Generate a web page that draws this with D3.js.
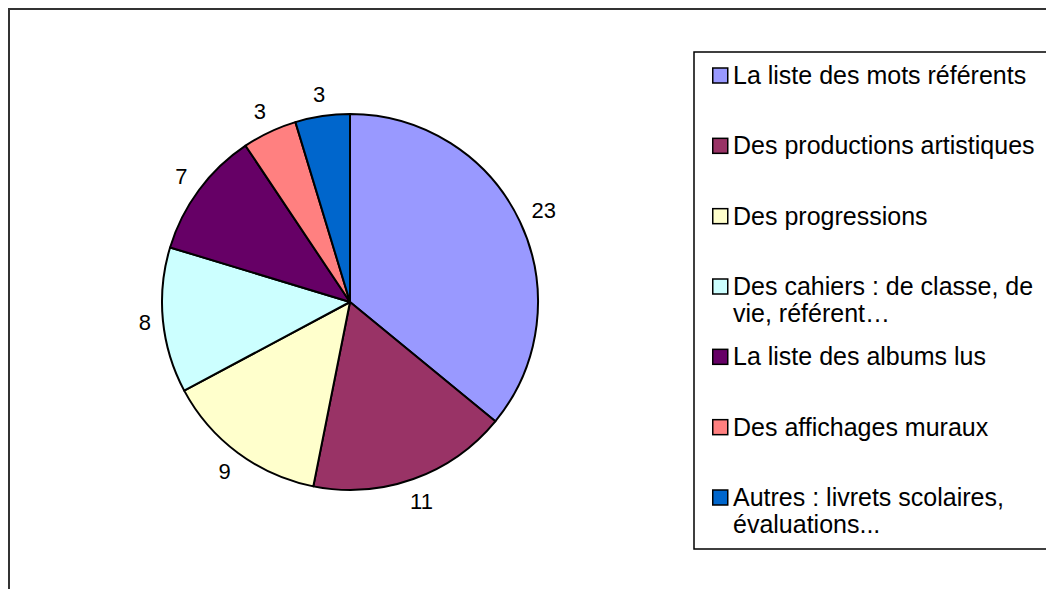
<!DOCTYPE html>
<html>
<head>
<meta charset="utf-8">
<script src="https://cdn.jsdelivr.net/npm/d3@7"></script>
<style>
  html, body { margin: 0; padding: 0; background: #fff; }
  svg { display: block; font-family: "Liberation Sans", Arial, sans-serif; }
</style>
</head>
<body>
<script>
const categories = [
  ['La liste des mots référents'],
  ['Des productions artistiques'],
  ['Des progressions'],
  ['Des cahiers : de classe, de', 'vie, référent…'],
  ['La liste des albums lus'],
  ['Des affichages muraux'],
  ['Autres : livrets scolaires,', 'évaluations...']
];
const values = [23, 11, 9, 8, 7, 3, 3];
const colors = ['#9999FF', '#993366', '#FFFFCC', '#CCFFFF', '#660066', '#FF8080', '#0066CC'];

const width = 1046;
const height = 589;

const svg = d3.select('body').append('svg')
    .attr('width', width)
    .attr('height', height);

// outer chart frame (runs off the right/bottom edge)
svg.append('path')
    .attr('d', `M9,${height + 5} V9 H${width + 5}`)
    .attr('fill', 'none')
    .attr('stroke', '#333')
    .attr('stroke-width', 2);

const cx = 350, cy = 302, radius = 188;

const pie = d3.pie().sort(null).value(d => d);
const arcs = pie(values);
const arc = d3.arc().innerRadius(0).outerRadius(radius);

const g = svg.append('g').attr('transform', `translate(${cx},${cy})`);

g.selectAll('path')
    .data(arcs)
    .enter()
    .append('path')
    .attr('d', arc)
    .attr('fill', (d, i) => colors[i])
    .attr('stroke', '#000')
    .attr('stroke-width', 2)
    .attr('stroke-linejoin', 'round');

// value labels: keep a constant gap between the pie edge and the label box
const gap = 11;
g.selectAll('text')
    .data(arcs)
    .enter()
    .append('text')
    .attr('text-anchor', 'middle')
    .attr('dominant-baseline', 'central')
    .attr('font-size', 22)
    .text(d => d.data)
    .each(function(d) {
        const a = (d.startAngle + d.endAngle) / 2;
        const ux = Math.sin(a), uy = -Math.cos(a);
        const w = this.getBBox().width;
        const r = radius + gap + Math.abs(ux) * w / 2 + Math.abs(uy) * 10;
        d3.select(this).attr('x', ux * r).attr('y', uy * r);
    });

// legend
const legX = 694, legY = 52, legBottom = 549;
svg.append('path')
    .attr('d', `M${width + 5},${legY} H${legX} V${legBottom} H${width + 5}`)
    .attr('fill', 'none')
    .attr('stroke', '#000')
    .attr('stroke-width', 1.5);

const legendY = d3.scaleLinear().domain([0, categories.length - 1]).range([75, 497]);

const item = svg.selectAll('g.legend-item')
    .data(categories)
    .enter()
    .append('g')
    .attr('class', 'legend-item')
    .attr('transform', (d, i) => `translate(712,${legendY(i)})`);

item.append('rect')
    .attr('x', 0.75)
    .attr('y', -7)
    .attr('width', 15)
    .attr('height', 15)
    .attr('fill', (d, i) => colors[i])
    .attr('stroke', '#000')
    .attr('stroke-width', 1.5);

item.append('text')
    .attr('font-size', 25)
    .selectAll('tspan')
    .data(d => d)
    .enter()
    .append('tspan')
    .attr('x', 21)
    .attr('y', (d, i) => i * 27)
    .attr('dominant-baseline', 'central')
    .text(d => d);
</script>
</body>
</html>
